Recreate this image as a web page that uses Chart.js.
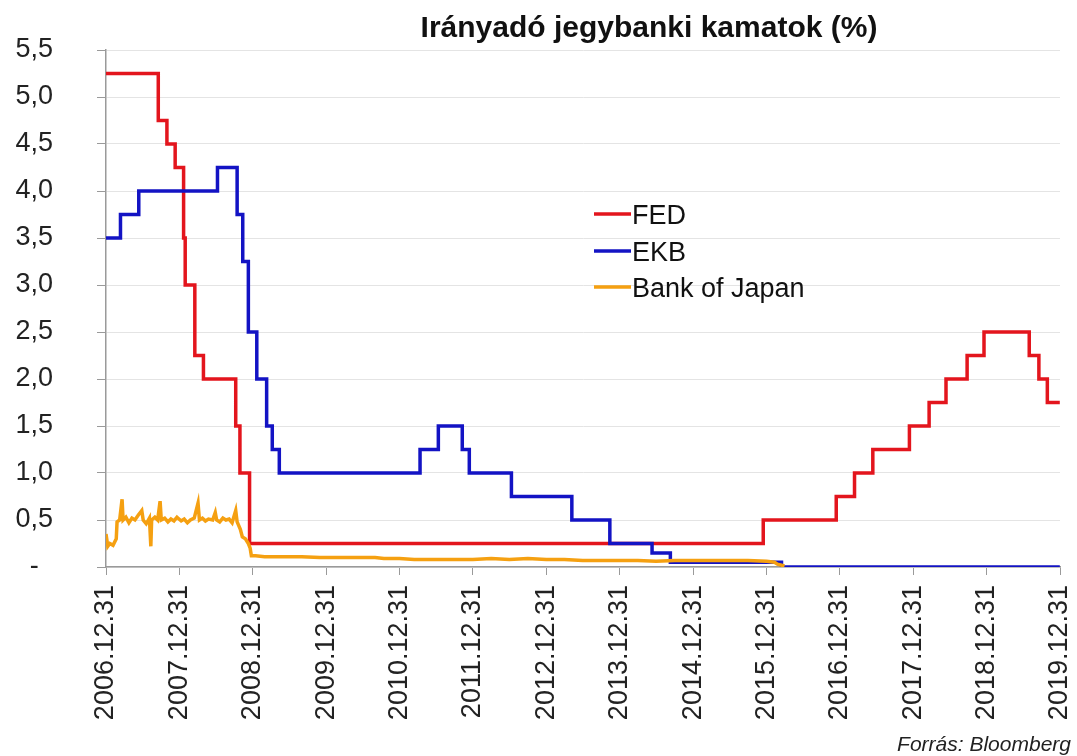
<!DOCTYPE html>
<html lang="hu">
<head>
<meta charset="UTF-8">
<title>Irányadó jegybanki kamatok</title>
<script src="https://cdn.jsdelivr.net/npm/chart.js"></script>
<style>
  body { margin: 0; background: #fff; }
  #wrap { width: 1077px; height: 756px; }
</style>
</head>
<body>
<div id="wrap"><canvas id="rates" width="1077" height="756"></canvas></div>
<script>
// Fed (felső sáv), dates of change and new rate
const fedDates = ["2007-01-01","2007-09-18","2007-10-31","2007-12-11","2008-01-22","2008-01-30","2008-03-18","2008-04-30","2008-10-08","2008-10-29","2008-12-16","2015-12-16","2016-12-14","2017-03-15","2017-06-14","2017-12-13","2018-03-21","2018-06-13","2018-09-26","2018-12-19","2019-08-01","2019-09-18","2019-10-30","2019-12-31"];
const fedRates = [5.25,4.75,4.5,4.25,3.5,3.0,2.25,2.0,1.5,1.0,0.25,0.5,0.75,1.0,1.25,1.5,1.75,2.0,2.25,2.5,2.25,2.0,1.75,1.75];

// EKB main refinancing rate
const ekbDates = ["2007-01-01","2007-03-14","2007-06-13","2008-07-09","2008-10-15","2008-11-12","2008-12-10","2009-01-21","2009-03-11","2009-04-08","2009-05-13","2011-04-13","2011-07-13","2011-11-09","2011-12-14","2012-07-11","2013-05-08","2013-11-13","2014-06-11","2014-09-10","2016-03-16","2019-12-31"];
const ekbRates = [3.5,3.75,4.0,4.25,3.75,3.25,2.5,2.0,1.5,1.25,1.0,1.25,1.5,1.25,1.0,0.75,0.5,0.25,0.15,0.05,0.0,0.0];

// Bank of Japan overnight call rate
const bojDates = ["2007-01-01","2007-01-10","2007-01-20","2007-02-05","2007-02-21","2007-02-25","2007-03-10","2007-03-22","2007-03-27","2007-04-10","2007-04-25","2007-05-10","2007-05-25","2007-06-10","2007-06-28","2007-07-05","2007-07-20","2007-08-05","2007-08-12","2007-08-16","2007-09-01","2007-09-15","2007-09-27","2007-10-03","2007-10-20","2007-11-05","2007-11-20","2007-12-05","2007-12-20","2008-01-10","2008-01-25","2008-02-10","2008-02-25","2008-03-15","2008-04-03","2008-04-10","2008-04-25","2008-05-10","2008-05-25","2008-06-15","2008-06-28","2008-07-05","2008-07-20","2008-08-05","2008-08-20","2008-09-05","2008-09-20","2008-10-01","2008-10-08","2008-10-15","2008-10-31","2008-11-10","2008-11-25","2008-12-10","2008-12-19","2008-12-25","2009-01-15","2009-03-01","2009-06-01","2009-09-01","2009-12-01","2010-03-01","2010-06-01","2010-09-01","2010-10-15","2011-01-01","2011-03-15","2011-06-01","2011-09-01","2012-01-01","2012-04-01","2012-07-01","2012-10-01","2013-01-01","2013-04-01","2013-07-01","2013-10-01","2014-01-01","2014-04-01","2014-07-01","2014-10-01","2015-01-01","2015-04-01","2015-07-01","2015-10-01","2016-01-01","2016-02-10","2016-02-25","2016-03-31"];
const bojRates = [0.35,0.22,0.25,0.23,0.30,0.48,0.50,0.72,0.50,0.53,0.47,0.52,0.50,0.55,0.60,0.50,0.46,0.52,0.22,0.50,0.53,0.50,0.70,0.50,0.52,0.48,0.51,0.49,0.53,0.49,0.51,0.47,0.50,0.52,0.68,0.50,0.52,0.49,0.51,0.50,0.58,0.50,0.48,0.52,0.50,0.51,0.47,0.55,0.60,0.48,0.40,0.32,0.30,0.25,0.20,0.12,0.12,0.11,0.11,0.11,0.10,0.10,0.10,0.10,0.09,0.09,0.08,0.08,0.08,0.08,0.09,0.08,0.09,0.08,0.08,0.07,0.07,0.07,0.07,0.06,0.07,0.07,0.07,0.07,0.07,0.06,0.05,0.03,0.01];

const seriesNames = ["FED", "EKB", "Bank of Japan"];
const seriesColors = ["#e3151d", "#1313c4", "#f5a011"];

// date string -> decimal year, so 2007.0 is the 2006.12.31 tick
function toYear(s) {
    const d = new Date(s + "T00:00:00Z");
    const y = d.getUTCFullYear();
    const start = Date.UTC(y, 0, 1), end = Date.UTC(y + 1, 0, 1);
    return y + (d - start) / (end - start);
}

function points(dates, values) {
    return dates.map((d, i) => ({ x: toYear(d), y: values[i] }));
}

const fontName = '"Liberation Sans", Arial, sans-serif';

// title, legend and source note
const extras = {
    id: "extras",
    afterDraw(chart) {
        const ctx = chart.ctx;
        ctx.save();
        ctx.fillStyle = "#111";
        ctx.font = "bold 30px " + fontName;
        ctx.textAlign = "center";
        ctx.textBaseline = "alphabetic";
        ctx.fillText("Irányadó jegybanki kamatok (%)", 649, 37);

        const rows = [224, 261, 297];
        ctx.font = "27px " + fontName;
        ctx.textAlign = "left";
        seriesNames.forEach((name, i) => {
            ctx.strokeStyle = seriesColors[i];
            ctx.lineWidth = 3.5;
            ctx.beginPath();
            ctx.moveTo(594, rows[i] - 10);
            ctx.lineTo(631, rows[i] - 10);
            ctx.stroke();
            ctx.fillStyle = "#111";
            ctx.fillText(name, 632, rows[i]);
        });

        ctx.font = "italic 21px " + fontName;
        ctx.textAlign = "right";
        ctx.fillStyle = "#222";
        ctx.fillText("Forrás: Bloomberg", 1071, 751);
        ctx.restore();
    }
};

new Chart(document.getElementById("rates"), {
    type: "line",
    data: {
        datasets: [
            {
                label: seriesNames[0],
                data: points(fedDates, fedRates),
                borderColor: seriesColors[0],
                borderWidth: 3.5,
                stepped: true,
                pointRadius: 0,
                order: 2
            },
            {
                label: seriesNames[1],
                data: points(ekbDates, ekbRates),
                borderColor: seriesColors[1],
                borderWidth: 3.5,
                stepped: true,
                pointRadius: 0,
                order: 1
            },
            {
                label: seriesNames[2],
                data: points(bojDates, bojRates),
                borderColor: seriesColors[2],
                borderWidth: 3.5,
                pointRadius: 0,
                order: 0
            }
        ]
    },
    options: {
        responsive: false,
        animation: false,
        layout: { padding: { top: 50, right: 17, left: 0, bottom: 0 } },
        plugins: {
            legend: { display: false },
            title: { display: false },
            tooltip: { enabled: false }
        },
        scales: {
            x: {
                type: "linear",
                min: 2007,
                max: 2020,
                afterFit: s => {
                    s.height = 189;
                    s.paddingLeft = 0;
                    s.paddingRight = 0;
                },
                border: { color: "#9a9a9a", width: 1.5 },
                grid: { drawOnChartArea: false, color: "#9a9a9a", tickLength: 8 },
                ticks: {
                    stepSize: 1,
                    minRotation: 90,
                    maxRotation: 90,
                    padding: 10,
                    color: "#222",
                    font: { family: fontName, size: 27 },
                    callback: v => (v - 1) + ".12.31"
                }
            },
            y: {
                min: 0,
                max: 5.5,
                afterFit: s => {
                    s.width = 106;
                    s.paddingTop = 0;
                    s.paddingBottom = 0;
                },
                border: { color: "#9a9a9a", width: 1.5 },
                grid: { color: "#e4e4e4", tickColor: "#9a9a9a", tickLength: 9 },
                ticks: {
                    stepSize: 0.5,
                    crossAlign: "center",
                    padding: 44,
                    color: "#222",
                    font: { family: fontName, size: 27 },
                    callback: v => v === 0 ? "-" : v.toFixed(1).replace(".", ",")
                }
            }
        }
    },
    plugins: [extras]
});
</script>
</body>
</html>
